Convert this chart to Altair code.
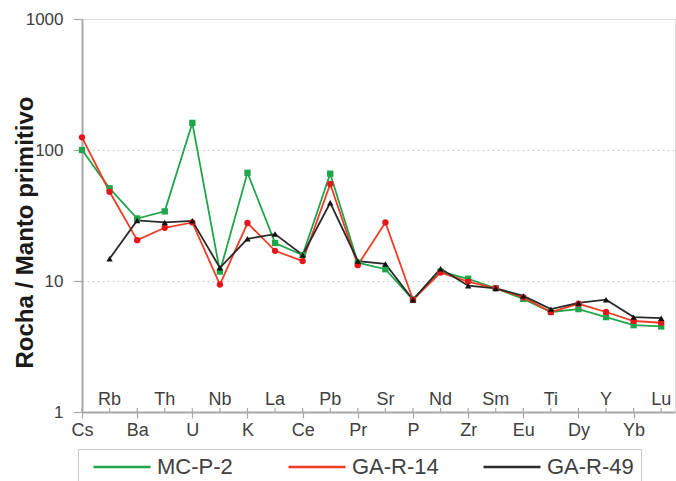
import altair as alt
import pandas as pd
import json

elements = ["Cs", "Rb", "Ba", "Th", "U", "Nb", "K", "La", "Ce", "Pb", "Pr",
            "Sr", "P", "Nd", "Zr", "Sm", "Eu", "Ti", "Dy", "Y", "Yb", "Lu"]
series_names = ["MC-P-2", "GA-R-14", "GA-R-49"]
mcp2 = [100, 51, 30, 34, 161, 11.8, 67, 19.5, 15.8, 66, 13.8,
        12.3, 7.2, 11.8, 10.4, 8.8, 7.3, 5.8, 6.1, 5.3, 4.6, 4.5]
gar14 = [125, 48, 20.5, 25.5, 28, 9.4, 27.7, 17, 14.2, 55, 13.2,
         28, 7.2, 11.6, 9.9, 8.8, 7.5, 5.8, 6.7, 5.8, 4.95, 4.8]
gar49 = [None, 14.8, 29, 28, 28.8, 12.6, 21, 22.8, 15.8, 39.5, 14.2,
         13.5, 7.2, 12.4, 9.2, 8.8, 7.7, 6.1, 6.8, 7.2, 5.3, 5.2]
y_ticks = [1, 10, 100, 1000]

line_colors = ["#1fa64a", "#f03c24", "#2a2a2a"]
point_colors = ["#1fa64a", "#e8141c", "#111111"]
shapes = ["square", "circle", "triangle-up"]

rows = []
for name, vals in zip(series_names, [mcp2, gar14, gar49]):
    for i, (el, v) in enumerate(zip(elements, vals)):
        if v is not None:
            rows.append({"idx": i, "element": el, "value": v, "sample": name})
df = pd.DataFrame(rows)

top_labels = pd.DataFrame([{"idx": i, "element": el} for i, el in enumerate(elements) if i % 2 == 1])
all_ticks = pd.DataFrame({"idx": list(range(len(elements)))})

W, H = 593, 393
label_array = json.dumps(elements)

x_scale = alt.Scale(domain=[0, 21.5], nice=False, zero=False)
y_scale = alt.Scale(type="log", domain=[1, 1000], nice=False)

x_axis = alt.Axis(
    values=list(range(len(elements))),
    labelExpr=f"datum.value % 2 == 0 ? {label_array}[datum.value] : ''",
    title=None, grid=False, domainColor="#a8a8a8", domainWidth=2,
    tickColor="#a8a8a8", tickSize=6, tickWidth=1.2,
    labelFont="Liberation Sans", labelFontSize=18, labelColor="#404040",
    labelPadding=3, labelFlush=False, labelOverlap=False,
)
y_axis = alt.Axis(
    values=y_ticks, format="d",
    title="Rocha / Manto primitivo", titleFont="Liberation Sans",
    titleFontSize=24, titleFontWeight="bold", titleColor="#1a1a1a",
    titleAngle=-90, titleX=-57, titleY=213, titleAlign="center", titleBaseline="middle",
    grid=True, gridColor="#cfcfcf", gridDash=[2, 3], gridWidth=1,
    gridOpacity={"condition": {"test": "datum.value == 1000 || datum.value == 1", "value": 0}, "value": 1},
    domainColor="#a8a8a8", domainWidth=2, tickColor="#a8a8a8", tickSize=9, tickWidth=1.2,
    labelFont="Liberation Sans", labelFontSize=17, labelColor="#404040", labelPadding=10,
)

color_scale = alt.Scale(domain=series_names, range=line_colors)

lines = alt.Chart(df).mark_line(strokeWidth=1.8).encode(
    x=alt.X("idx:Q", scale=x_scale, axis=x_axis),
    y=alt.Y("value:Q", scale=y_scale, axis=y_axis),
    color=alt.Color("sample:N", scale=color_scale, sort=series_names,
                    legend=alt.Legend(title=None, orient="none", legendX=-4, legendY=430,
                                      direction="horizontal", columns=3,
                                      symbolType="M-5,0H1", symbolSize=361,
                                      symbolStrokeWidth=2.5,
                                      labelFont="Liberation Sans", labelFontSize=22,
                                      labelColor="#404040", labelOffset=5,
                                      gridAlign="all", columnPadding=36,
                                      padding=7, symbolOffset=45,
                                      strokeColor="#c8c8c8", fillColor="white")),
    detail="sample:N",
    order=alt.Order("idx:Q"),
)

points = alt.Chart(df).mark_point(filled=True, opacity=1, size=40).encode(
    x=alt.X("idx:Q", scale=x_scale),
    y=alt.Y("value:Q", scale=y_scale),
    shape=alt.Shape("sample:N", scale=alt.Scale(domain=series_names, range=shapes), legend=None),
    fill=alt.Fill("sample:N", scale=alt.Scale(domain=series_names, range=point_colors), legend=None),
)

up_ticks = alt.Chart(all_ticks).mark_rule(color="#a8a8a8", strokeWidth=1.2).encode(
    x=alt.X("idx:Q", scale=x_scale),
    y=alt.value(H),
    y2=alt.value(H - 4),
)

top_text = alt.Chart(top_labels).mark_text(
    font="Liberation Sans", fontSize=18, color="#404040", baseline="middle"
).encode(
    x=alt.X("idx:Q", scale=x_scale),
    y=alt.value(H - 12),
    text="element:N",
)

chart = alt.layer(up_ticks, lines, points, top_text).resolve_scale(
    fill="independent", shape="independent"
).properties(
    width=W, height=H,
    autosize=alt.AutoSizeParams(type="none"),
    padding={"left": 82, "top": 19, "right": 1, "bottom": 69},
).configure_view(stroke=None).configure(background="white")

chart.save("out.html", embed_options={"renderer": "svg", "actions": False})
